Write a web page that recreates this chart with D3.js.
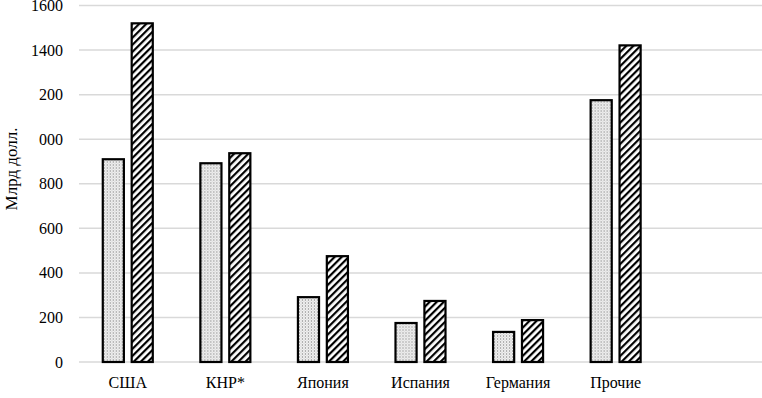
<!DOCTYPE html>
<html>
<head>
<meta charset="utf-8">
<script src="https://cdn.jsdelivr.net/npm/d3@7"></script>
<style>
  body { margin: 0; background: #fff; }
  text { font-family: "Liberation Serif", "Times New Roman", serif; fill: #000; }
</style>
</head>
<body>
<div id="chart"></div>
<script>
// data (млрд долл.)
const categories = ["США", "КНР*", "Япония", "Испания", "Германия", "Прочие"];
const dotted  = [910, 892, 291, 175, 135, 1175];
const hatched = [1520, 937, 475, 274, 188, 1421];
const tickValues = [0, 200, 400, 600, 800, 1000, 1200, 1400, 1600];
const tickLabels = ["0", "200", "400", "600", "800", "000", "200", "1400", "1600"];

const W = 762, H = 398;
const margin = { top: 5.5, right: 0, bottom: 36, left: 79 };
const width = W - margin.left - margin.right,
      height = H - margin.top - margin.bottom;

const svg = d3.select("#chart").append("svg")
  .attr("width", W)
  .attr("height", H);

// fill patterns
const defs = svg.append("defs");
const dots = defs.append("pattern")
  .attr("id", "dots")
  .attr("patternUnits", "userSpaceOnUse")
  .attr("width", 3).attr("height", 3);
dots.append("rect").attr("width", 3).attr("height", 3).attr("fill", "#f4f4f4");
dots.append("rect").attr("x", 0).attr("y", 0).attr("width", 1).attr("height", 1).attr("fill", "#666");
dots.append("rect").attr("x", 1.5).attr("y", 1.5).attr("width", 1).attr("height", 1).attr("fill", "#aaa");

const hatch = defs.append("pattern")
  .attr("id", "hatch")
  .attr("patternUnits", "userSpaceOnUse")
  .attr("width", 5).attr("height", 5)
  .attr("patternTransform", "rotate(45)");
hatch.append("rect").attr("width", 5).attr("height", 5).attr("fill", "#fff");
hatch.append("rect").attr("x", 0).attr("width", 2.2).attr("height", 5).attr("fill", "#000");

const g = svg.append("g")
  .attr("transform", `translate(${margin.left},${margin.top})`);

// scales: one empty slot at the right end
const x = d3.scaleBand()
  .domain(categories.concat([" "]))
  .range([0, width])
  .padding(0);

const x1 = d3.scaleBand()
  .domain([0, 1])
  .range([-25, 25])
  .paddingInner(0.27);

const y = d3.scaleLinear()
  .domain([0, 1600])
  .range([height, 0]);

// gridlines
g.selectAll(".grid")
  .data(tickValues)
  .enter().append("line")
    .attr("x1", 0).attr("x2", width)
    .attr("y1", d => y(d)).attr("y2", d => y(d))
    .attr("stroke", "#d9d9d9")
    .attr("stroke-width", 1.5);

// y tick labels
g.selectAll(".ylab")
  .data(tickValues)
  .enter().append("text")
    .attr("x", -16)
    .attr("y", d => y(d))
    .attr("dy", "0.35em")
    .attr("text-anchor", "end")
    .style("font-size", "16px")
    .text((d, i) => tickLabels[i]);

// bars
const groups = g.selectAll(".cat")
  .data(categories)
  .enter().append("g")
    .attr("transform", d => `translate(${x(d) + x.bandwidth() / 2},0)`);

groups.append("rect")
  .attr("x", x1(0))
  .attr("width", x1.bandwidth())
  .attr("y", (d, i) => y(dotted[i]))
  .attr("height", (d, i) => y(0) - y(dotted[i]))
  .attr("fill", "url(#dots)")
  .attr("stroke", "#000")
  .attr("stroke-width", 2.2);

groups.append("rect")
  .attr("x", x1(1))
  .attr("width", x1.bandwidth())
  .attr("y", (d, i) => y(hatched[i]))
  .attr("height", (d, i) => y(0) - y(hatched[i]))
  .attr("fill", "url(#hatch)")
  .attr("stroke", "#000")
  .attr("stroke-width", 2.2);

// x labels
g.selectAll(".xlab")
  .data(categories)
  .enter().append("text")
    .attr("x", d => x(d) + x.bandwidth() / 2)
    .attr("y", height + 26)
    .attr("text-anchor", "middle")
    .style("font-size", "16px")
    .text(d => d);

// y axis title
svg.append("text")
  .attr("transform", "translate(17,169) rotate(-90)")
  .attr("text-anchor", "middle")
  .style("font-size", "17px")
  .text("Млрд долл.");
</script>
</body>
</html>
